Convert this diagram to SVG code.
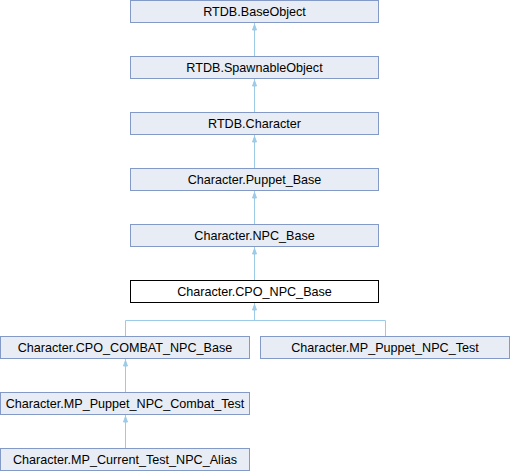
<svg xmlns="http://www.w3.org/2000/svg" width="510" height="472" viewBox="0 0 510 472">
<defs>
<style>
.n rect{fill:#e8edf5;stroke:#8399c6;stroke-width:1}
.n.cur rect{fill:#ffffff;stroke:#000000}
.n text{font-family:"Liberation Sans",Arial,sans-serif;font-size:12.6px;fill:#000;text-anchor:middle}
.e{fill:none;stroke:#9ccbe8;stroke-width:1}
.ah{fill:#9ccbe8;stroke:#9ccbe8;stroke-width:1}
</style>
</defs>
<rect width="510" height="472" fill="#ffffff"/>
<g id="connectors">
<path class="e" d="M254.5 23 V56 M254.5 79 V112 M254.5 135 V168 M254.5 191 V224 M254.5 247 V280"/>
<path class="e" d="M254.5 303 V320.5 M125.5 320.5 H385.5 M125.5 320.5 V336 M385.5 320.5 V336"/>
<path class="e" d="M125.5 359 V392 M125.5 415 V448"/>
<g class="ah">
<path d="M254.5 24.5 L252.5 30 L256.5 30 Z"/>
<path d="M254.5 80.5 L252.5 86 L256.5 86 Z"/>
<path d="M254.5 136.5 L252.5 142 L256.5 142 Z"/>
<path d="M254.5 192.5 L252.5 198 L256.5 198 Z"/>
<path d="M254.5 248.5 L252.5 254 L256.5 254 Z"/>
<path d="M254.5 304.5 L252.5 310 L256.5 310 Z"/>
<path d="M125.5 360.5 L123.5 366 L127.5 366 Z"/>
<path d="M125.5 416.5 L123.5 422 L127.5 422 Z"/>
</g>
</g>
<g id="n1" class="n"><rect x="130.5" y="0.5" width="248" height="22"/><text x="254.5" y="16">RTDB.BaseObject</text></g>
<g id="n2" class="n"><rect x="130.5" y="56.5" width="248" height="22"/><text x="254.5" y="72">RTDB.SpawnableObject</text></g>
<g id="n3" class="n"><rect x="130.5" y="112.5" width="248" height="22"/><text x="254.5" y="128">RTDB.Character</text></g>
<g id="n4" class="n"><rect x="130.5" y="168.5" width="248" height="22"/><text x="254.5" y="184">Character.Puppet_Base</text></g>
<g id="n5" class="n"><rect x="130.5" y="224.5" width="248" height="22"/><text x="254.5" y="240">Character.NPC_Base</text></g>
<g id="n6" class="n cur"><rect x="130.5" y="280.5" width="248" height="22"/><text x="254.5" y="296">Character.CPO_NPC_Base</text></g>
<g id="n7" class="n"><rect x="0.5" y="336.5" width="249" height="22"/><text x="125" y="352">Character.CPO_COMBAT_NPC_Base</text></g>
<g id="n8" class="n"><rect x="260.5" y="336.5" width="249" height="22"/><text x="385" y="352">Character.MP_Puppet_NPC_Test</text></g>
<g id="n9" class="n"><rect x="0.5" y="392.5" width="249" height="22"/><text x="125" y="408">Character.MP_Puppet_NPC_Combat_Test</text></g>
<g id="n10" class="n"><rect x="0.5" y="448.5" width="249" height="22"/><text x="125" y="464">Character.MP_Current_Test_NPC_Alias</text></g>
</svg>
